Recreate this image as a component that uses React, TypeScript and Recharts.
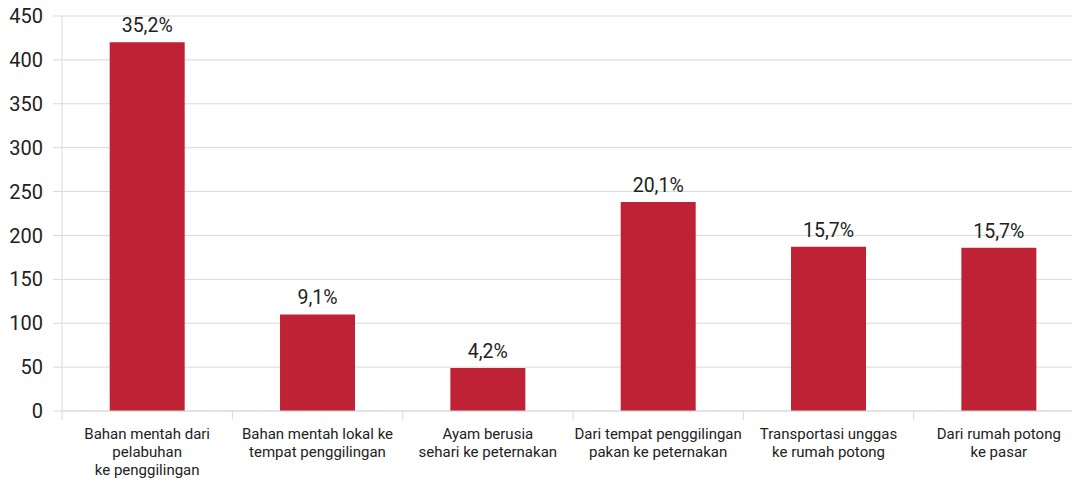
import { Bar, BarChart, CartesianGrid, LabelList, XAxis, YAxis } from 'recharts';

const categories = [
  'Bahan mentah dari\npelabuhan\nke penggilingan',
  'Bahan mentah lokal ke\ntempat penggilingan',
  'Ayam berusia\nsehari ke peternakan',
  'Dari tempat penggilingan\npakan ke peternakan',
  'Transportasi unggas\nke rumah potong',
  'Dari rumah potong\nke pasar',
];
const values = [420, 110, 49, 238, 187, 186];
const shares = ['35,2%', '9,1%', '4,2%', '20,1%', '15,7%', '15,7%'];
const yTicks = [0, 50, 100, 150, 200, 250, 300, 350, 400, 450];

const data = categories.map((name, i) => ({ name, value: values[i], share: shares[i] }));

const W = 1100;
const H = 481;
const MARGIN = { top: 16, right: 16, bottom: 0, left: 0 };
const Y_W = 62;
const STEP = (W - MARGIN.left - MARGIN.right - Y_W) / categories.length;
const FONT = 'Roboto, "DejaVu Sans", sans-serif';
const GRID = '#d9d9d9';

function CategoryTick(props: any) {
  const { x, y, payload, index } = props;
  const lines = String(payload.value).split('\n');
  return (
    <g>
      <line x1={x - STEP / 2} x2={x - STEP / 2} y1={y} y2={y + 9} stroke={GRID} />
      {index === categories.length - 1 && (
        <line x1={x + STEP / 2} x2={x + STEP / 2} y1={y} y2={y + 9} stroke={GRID} />
      )}
      <text x={x} y={y + 28} textAnchor="middle" fontSize={15} fill="#222" fontFamily={FONT}>
        {lines.map((l, i) => (
          <tspan key={i} x={x} dy={i === 0 ? 0 : 18}>
            {l}
          </tspan>
        ))}
      </text>
    </g>
  );
}

export default function App() {
  return (
    <div style={{ position: 'absolute', left: 0, top: 0, width: 1072, height: H, overflow: 'hidden', background: '#fff' }}>
      <BarChart width={W} height={H} data={data} margin={MARGIN} barCategoryGap="28%">
        <CartesianGrid vertical={false} stroke={GRID} />
        <XAxis
          dataKey="name"
          interval={0}
          height={70}
          tickLine={false}
          tickSize={0}
          tickMargin={0}
          axisLine={{ stroke: GRID }}
          tick={<CategoryTick />}
        />
        <YAxis
          width={Y_W}
          domain={[0, 450]}
          ticks={yTicks}
          interval={0}
          tickSize={9}
          tickMargin={10}
          tickLine={{ stroke: GRID }}
          axisLine={{ stroke: GRID }}
          tick={{ fontSize: 20, fill: '#222', fontFamily: FONT }}
        />
        <Bar dataKey="value" fill="#BE2234" isAnimationActive={false}>
          <LabelList dataKey="share" position="top" offset={10} fontSize={19.5} fill="#222" fontFamily={FONT} />
        </Bar>
      </BarChart>
    </div>
  );
}
